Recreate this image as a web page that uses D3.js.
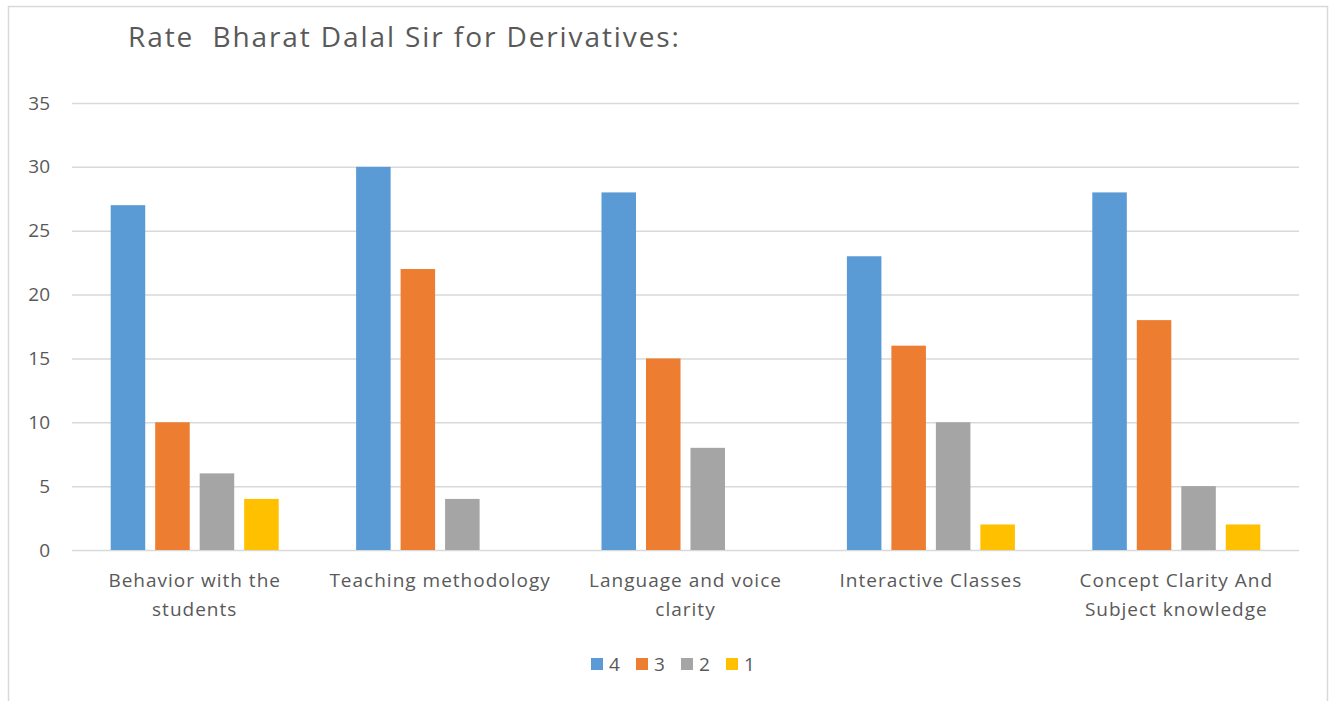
<!DOCTYPE html>
<meta charset="utf-8">
<script src="https://d3js.org/d3.v7.min.js"></script>
<style>
  body { margin: 0; background: #fff; font-family: "Open Sans", Lato, sans-serif; }
  .tick text { fill: #595959; }
</style>
<div id="chart"></div>
<script>
// chart data
var categories = [
  ["Behavior with the", "students"],
  ["Teaching methodology"],
  ["Language and voice", "clarity"],
  ["Interactive Classes"],
  ["Concept Clarity And", "Subject knowledge"]
];
var seriesNames = ["4", "3", "2", "1"];
var values4 = [27, 30, 28, 23, 28];
var values3 = [10, 22, 15, 16, 18];
var values2 = [6, 4, 8, 10, 5];
var values1 = [4, 0, 0, 2, 2];
var yTicks = [0, 5, 10, 15, 20, 25, 30, 35];
var colors = ["#5B9BD5", "#ED7D31", "#A5A5A5", "#FFC000"];

var width = 1333, height = 701;
var margin = {top: 103, right: 34, bottom: 151, left: 72};

var svg = d3.select("#chart").append("svg")
  .attr("width", width)
  .attr("height", height);

// outer frame
svg.append("rect")
  .attr("x", 8.5).attr("y", 6.5)
  .attr("width", 1319).attr("height", 710)
  .attr("fill", "none")
  .attr("stroke", "#D9D9D9")
  .attr("stroke-width", 1.5);

// title
svg.append("text")
  .attr("x", 128).attr("y", 47)
  .attr("fill", "#595959")
  .style("font-size", "28px")
  .style("letter-spacing", "1.9px")
  .style("white-space", "pre")
  .text("Rate  Bharat Dalal Sir for Derivatives:");

var idx = d3.range(categories.length);
var rows = idx.map(function(i) {
  return [values4[i], values3[i], values2[i], values1[i]];
});

var x0 = d3.scaleBand()
  .domain(idx)
  .range([margin.left, width - margin.right]);

var outer = 38.7;
var x1 = d3.scaleBand()
  .domain(seriesNames)
  .range([outer, x0.bandwidth() - outer])
  .paddingInner(0.224);

var y = d3.scaleLinear()
  .domain([0, 35])
  .range([height - margin.bottom, margin.top]);

// gridlines and y labels
var yAxis = svg.append("g")
  .attr("transform", "translate(" + margin.left + ",0)")
  .call(d3.axisLeft(y).tickValues(yTicks).tickSize(-(width - margin.right - margin.left)).tickPadding(22));
yAxis.select(".domain").remove();
yAxis.selectAll(".tick line").attr("stroke", "#D9D9D9").attr("stroke-width", 1.5);
yAxis.selectAll(".tick text").style("font-size", "19px").style("font-family", "'Open Sans', sans-serif");

// bars
var groups = svg.append("g").selectAll("g")
  .data(rows)
  .enter().append("g")
  .attr("transform", function(d, i) { return "translate(" + x0(i) + ",0)"; });

groups.selectAll("rect")
  .data(function(d) { return d.map(function(v, j) { return {key: seriesNames[j], value: v, j: j}; }); })
  .enter().append("rect")
  .attr("x", function(d) { return x1(d.key); })
  .attr("width", x1.bandwidth())
  .attr("y", function(d) { return y(d.value); })
  .attr("height", function(d) { return y(0) - y(d.value); })
  .attr("fill", function(d) { return colors[d.j]; });

// category labels
var labels = svg.append("g").selectAll("text")
  .data(categories)
  .enter().append("text")
  .attr("x", function(d, i) { return x0(i) + x0.bandwidth() / 2; })
  .attr("y", 587)
  .attr("text-anchor", "middle")
  .attr("fill", "#595959")
  .style("font-size", "19px")
  .style("letter-spacing", "1px");
labels.selectAll("tspan")
  .data(function(d) { return d; })
  .enter().append("tspan")
  .attr("x", function() { return d3.select(this.parentNode).attr("x"); })
  .attr("dy", function(d, k) { return k === 0 ? 0 : 29; })
  .text(function(d) { return d; });

// legend
var legendX = [591, 636, 681, 726];
var legend = svg.append("g").selectAll("g")
  .data(seriesNames)
  .enter().append("g")
  .attr("transform", function(d, i) { return "translate(" + legendX[i] + ",658)"; });
legend.append("rect")
  .attr("width", 12).attr("height", 12)
  .attr("fill", function(d, i) { return colors[i]; });
legend.append("text")
  .attr("x", 18).attr("y", 13)
  .attr("fill", "#595959")
  .style("font-size", "19px")
  .text(function(d) { return d; });
</script>
